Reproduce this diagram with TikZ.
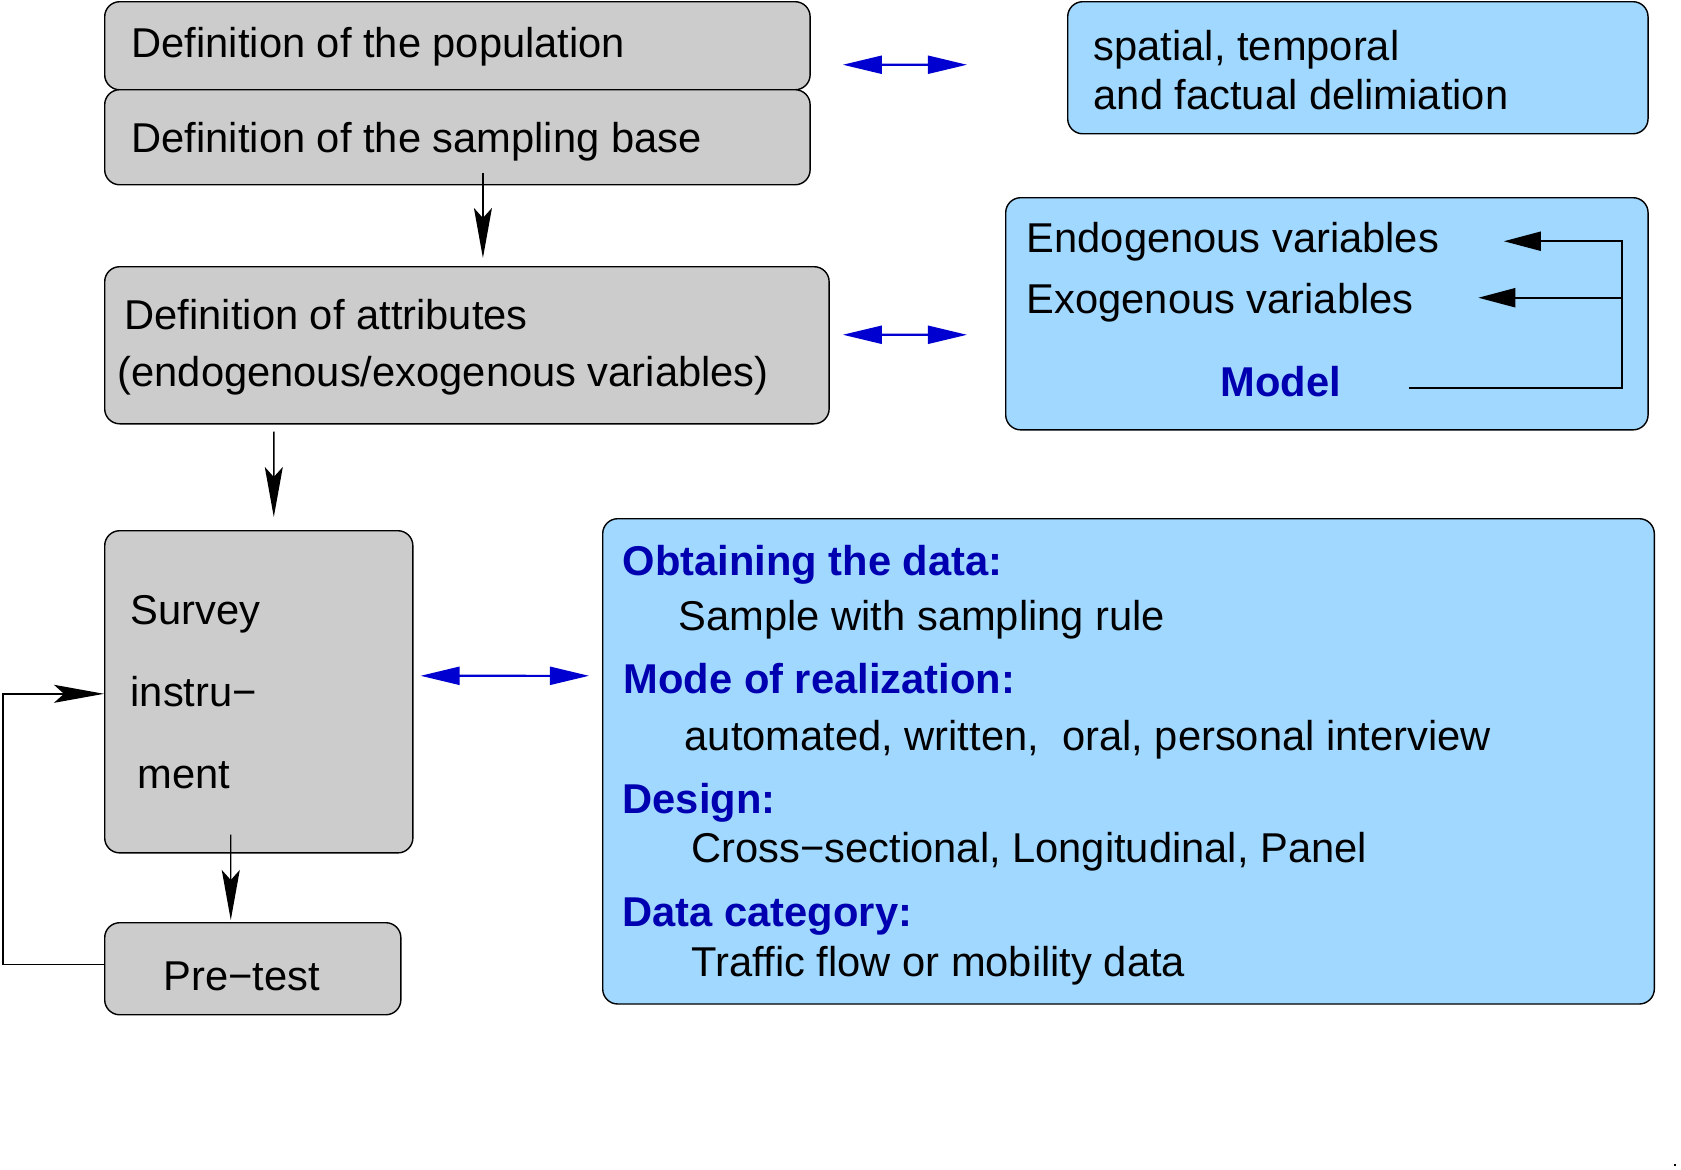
\documentclass[tikz,border=0pt]{standalone}
\usepackage{fontspec}
\setmainfont{Liberation Sans}
\usepackage{tikz}
\usetikzlibrary{arrows.meta}
\newcommand{\figsize}{\fontsize{11.85pt}{14pt}\selectfont}
\definecolor{boxgray}{RGB}{204,204,204}
\definecolor{boxblue}{RGB}{160,216,255}
\definecolor{textblue}{RGB}{0,0,176}
\definecolor{linkblue}{RGB}{0,0,208}
\tikzset{gray box/.style={draw, fill=boxgray, rounded corners=0.15cm,
    inner sep=0pt, anchor=north west, line width=0.4pt}}
\tikzset{blue box/.style={gray box, fill=boxblue}}
\tikzset{txt/.style={anchor=base west, inner sep=0pt}}
\tikzset{heading/.style={txt, font=\figsize\bfseries, text=textblue}}
\tikzset{flow/.style={draw, line width=0.4pt, -{Stealth[length=0.5cm, width=0.18cm, inset=0.1cm]}}}
\tikzset{fb line/.style={draw, line width=0.6pt, -{Triangle[length=0.37cm, width=0.19cm]}}}
\tikzset{link/.style={draw=linkblue, line width=0.6pt,
    {Triangle[length=0.39cm, width=0.18cm]}-{Triangle[length=0.39cm, width=0.18cm]}}}

\begin{document}
\begin{tikzpicture}
          [x=0.01cm, y=-0.01cm, font=\figsize]
          \useasboundingbox (0,0) rectangle (1681,1169);
          % boxes
          \node [gray box, minimum width=7.05cm, minimum height=0.88cm] (pop)   at ( 104,   1) {};
          \node [gray box, minimum width=7.05cm, minimum height=0.95cm] (samp)  at ( 104,  89) {};
          \node [gray box, minimum width=7.24cm, minimum height=1.57cm] (attr)  at ( 104, 266) {};
          \node [gray box, minimum width=3.08cm, minimum height=3.22cm] (surv)  at ( 104, 530) {};
          \node [gray box, minimum width=2.96cm, minimum height=0.92cm] (pret)  at ( 104, 922) {};
          \node [blue box, minimum width=5.80cm, minimum height=1.32cm] (delim) at (1067,   1) {};
          \node [blue box, minimum width=6.42cm, minimum height=2.32cm] (model) at (1005, 197) {};
          \node [blue box, minimum width=10.51cm, minimum height=4.85cm] (data) at ( 602, 518) {};

          % texts
          \node [txt]     (tpop)    at ( 131,  57) {Definition of the population};
          \node [txt]     (tsamp)   at ( 131, 152) {Definition of the sampling base};
          \node [txt]     (tattr1)  at ( 124, 329) {Definition of attributes};
          \node [txt]     (tattr2)  at ( 117, 386) {(endogenous/exogenous variables)};
          \node [txt]     (tsurv1)  at ( 130, 624) {Survey};
          \node [txt]     (tsurv2)  at ( 130, 706) {instru−};
          \node [txt]     (tsurv3)  at ( 137, 788) {ment};
          \node [txt]     (tpret)   at ( 163, 990) {Pre−test};
          \node [txt]     (tdelim1) at (1093,  60) {spatial, temporal};
          \node [txt]     (tdelim2) at (1093, 109) {and factual delimiation};
          \node [txt]     (lendo)   at (1026, 252) {Endogenous variables};
          \node [txt]     (lexo)    at (1026, 313) {Exogenous variables};
          \node [heading] (lmodel)  at (1220, 396) {Model};
          \node [heading] (hobt)    at ( 622, 575) {Obtaining the data:};
          \node [txt]     (sobt)    at ( 678, 630) {Sample with sampling rule};
          \node [heading] (hmode)   at ( 623, 693) {Mode of realization:};
          \node [txt]     (smode)   at ( 684, 750) {automated, written,\ \ oral, personal interview};
          \node [heading] (hdes)    at ( 622, 813) {Design:};
          \node [txt]     (sdes)    at ( 691, 862) {Cross−sectional, Longitudinal, Panel};
          \node [heading] (hcat)    at ( 622, 926) {Data category:};
          \node [txt]     (scat)    at ( 691, 976) {Traffic flow or mobility data};

          % flow arrows
          \draw [flow] ([shift={(0.255cm,0.12cm)}]samp.south) -- ([shift={(0.16cm,0.08cm)}]attr.north);
          \draw [flow] ([shift={(-1.93cm,-0.07cm)}]attr.south) -- ([shift={(0.15cm,0.13cm)}]surv.north);
          \draw [flow] ([shift={(-0.28cm,0.19cm)}]surv.south) -- ([shift={(-0.22cm,0.02cm)}]pret.north);
          \draw [flow] ([yshift=0.04cm]pret.west) -- ++(-1.01cm,0) |- ([yshift=-0.02cm]surv.west);

          % links to the blue boxes
          \draw [link] ([shift={(0.32cm,-0.19cm)}]pop.east)  -- ([shift={(-1.00cm,0.03cm)}]delim.west);
          \draw [link] ([shift={(0.13cm,0.105cm)}]attr.east) -- ([shift={(-0.38cm,-0.21cm)}]model.west);
          \draw [link] ([shift={(0.07cm,0.16cm)}]surv.east)  -- ([shift={(-0.13cm,0.855cm)}]data.west);

          % model feedback
          \coordinate (bus) at (1622, 0);
          \draw [fb line] ([shift={(0.67cm,0.08cm)}]lmodel.base east) -| (bus |- lendo.east) -- ([xshift=0.64cm]lendo.east);
          \draw [fb line] ([yshift=0.045cm]bus |- lexo.east) -- ([shift={(0.64cm,0.045cm)}]lexo.east);

          \fill (1674,1164) rectangle (1676,1166);
        \end{tikzpicture}
\end{document}
